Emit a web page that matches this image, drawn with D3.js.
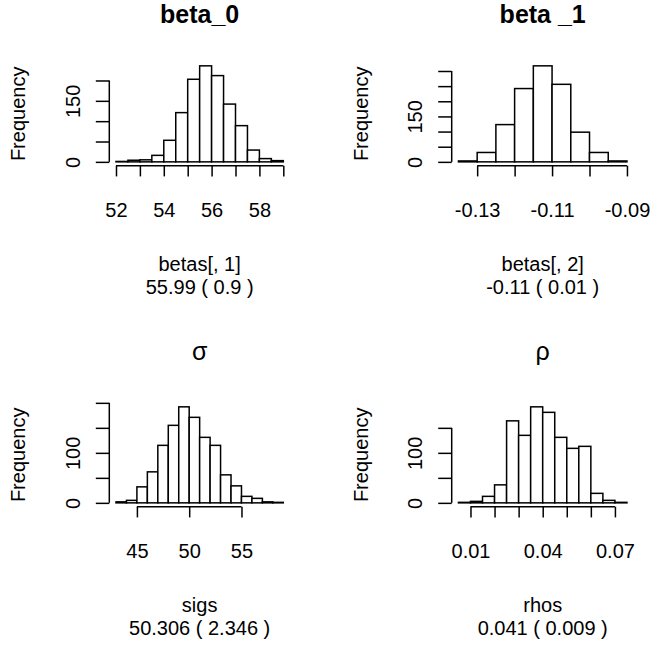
<!DOCTYPE html>
<html>
<head>
<meta charset="utf-8">
<script src="https://cdn.jsdelivr.net/npm/d3@7"></script>
<style>
  html, body { margin: 0; padding: 0; background: #fff; }
  svg text { font-family: "Liberation Sans", Arial, sans-serif; fill: #000; }
</style>
</head>
<body>
<script>
// ---------------- data ----------------
const beta0Breaks = [52, 52.5, 53, 53.5, 54, 54.5, 55, 55.5, 56, 56.5, 57, 57.5, 58, 58.5, 59];
const beta0Counts = [1, 4, 5, 16, 53, 121, 203, 236, 212, 142, 89, 29, 8, 3];
const beta0XTicks = [52, 53, 54, 55, 56, 57, 58, 59];
const beta0XLabels = ["52", "", "54", "", "56", "", "58", ""];
const beta0YTicks = [0, 50, 100, 150, 200];
const beta0YLabels = ["0", "", "", "150", ""];

const beta1Breaks = [-0.135, -0.13, -0.125, -0.12, -0.115, -0.11, -0.105, -0.10, -0.095, -0.09];
const beta1Counts = [3, 31, 123, 242, 317, 256, 98, 31, 3];
const beta1XTicks = [-0.13, -0.12, -0.11, -0.10, -0.09];
const beta1XLabels = ["-0.13", "", "-0.11", "", "-0.09"];
const beta1YTicks = [0, 50, 100, 150, 200, 250, 300];
const beta1YLabels = ["0", "", "", "150", "", "", ""];

const sigBreaks = [43, 44, 45, 46, 47, 48, 49, 50, 51, 52, 53, 54, 55, 56, 57, 58, 59];
const sigCounts = [2, 5, 32, 62, 115, 155, 192, 171, 131, 115, 56, 34, 13, 9, 2, 1];
const sigXTicks = [45, 50, 55];
const sigXLabels = ["45", "50", "55"];
const sigYTicks = [0, 50, 100, 150, 200];
const sigYLabels = ["0", "", "100", "", ""];

const rhoBreaks = [0.005, 0.01, 0.015, 0.02, 0.025, 0.03, 0.035, 0.04, 0.045, 0.05, 0.055, 0.06, 0.065, 0.07, 0.075];
const rhoCounts = [1, 3, 13, 36, 164, 135, 192, 181, 131, 109, 113, 19, 5, 1];
const rhoXTicks = [0.01, 0.02, 0.03, 0.04, 0.05, 0.06, 0.07];
const rhoXLabels = ["0.01", "", "", "0.04", "", "", "0.07"];
const rhoYTicks = [0, 50, 100, 150];
const rhoYLabels = ["0", "", "100", ""];

const titles = ["beta_0", "beta _1", "\u03C3", "\u03C1"];
const xLabs = ["betas[, 1]", "betas[, 2]", "sigs", "rhos"];
const subLabs = ["55.99 ( 0.9 )", "-0.11 ( 0.01 )", "50.306 ( 2.346 )", "0.041 ( 0.009 )"];
const yLab = "Frequency";

// ---------------- drawing ----------------
const W = 651, H = 648;
const svg = d3.select("body").append("svg").attr("width", W).attr("height", H);

const panels = [
  { breaks: beta0Breaks, counts: beta0Counts, xt: beta0XTicks, xl: beta0XLabels, yt: beta0YTicks, yl: beta0YLabels },
  { breaks: beta1Breaks, counts: beta1Counts, xt: beta1XTicks, xl: beta1XLabels, yt: beta1YTicks, yl: beta1YLabels },
  { breaks: sigBreaks, counts: sigCounts, xt: sigXTicks, xl: sigXLabels, yt: sigYTicks, yl: sigYLabels },
  { breaks: rhoBreaks, counts: rhoCounts, xt: rhoXTicks, xl: rhoXLabels, yt: rhoYTicks, yl: rhoYLabels }
];

const colX = [[109.3, 290], [451.7, 633.7]];
const rowY = [[62, 165.7], [403, 506.7]];
const titleY = [23, 360];
const xlabY = [271, 612];
const subY = [294, 635];
const LW = 1.5;
const FS = 20;

panels.forEach((p, i) => {
  const col = i % 2, row = Math.floor(i / 2);
  const [x0, x1] = colX[col];
  const [yTop, yBot] = rowY[row];
  const lo = p.breaks[0], hi = p.breaks[p.breaks.length - 1];
  const ext = (hi - lo) * 0.04;
  const x = d3.scaleLinear().domain([lo - ext, hi + ext]).range([x0, x1]);
  const ymax = d3.max(p.counts);
  const y = d3.scaleLinear().domain([-0.04 * ymax, ymax * 1.04]).range([yBot, yTop]);
  const g = svg.append("g");

  // bars
  g.selectAll("rect").data(p.counts).join("rect")
    .attr("x", (d, k) => x(p.breaks[k]))
    .attr("width", (d, k) => x(p.breaks[k + 1]) - x(p.breaks[k]))
    .attr("y", d => y(d))
    .attr("height", d => y(0) - y(d))
    .attr("fill", "#fff")
    .attr("stroke", "#000")
    .attr("stroke-width", LW);

  // x axis
  const xa = d3.axisBottom(x).tickValues(p.xt).tickSize(10.7)
    .tickFormat((d, k) => p.xl[k]);
  const gx = g.append("g").attr("transform", `translate(0,${yBot})`).call(xa);
  gx.select(".domain").remove();
  gx.selectAll(".tick line").attr("stroke", "#000").attr("stroke-width", LW);
  gx.selectAll(".tick text").attr("y", 51.3).attr("dy", null)
    .attr("font-size", FS).attr("fill", "#000").attr("font-family", null);
  gx.append("line").attr("x1", x(p.xt[0])).attr("x2", x(p.xt[p.xt.length - 1]))
    .attr("y1", 0).attr("y2", 0).attr("stroke", "#000").attr("stroke-width", LW);

  // y axis
  const ya = d3.axisLeft(y).tickValues(p.yt).tickSize(13.5)
    .tickFormat((d, k) => p.yl[k]);
  const gy = g.append("g").attr("transform", `translate(${x0},0)`).call(ya);
  gy.select(".domain").remove();
  gy.selectAll(".tick line").attr("stroke", "#000").attr("stroke-width", LW);
  gy.selectAll(".tick text").attr("x", null).attr("dy", null)
    .attr("text-anchor", "middle")
    .attr("transform", "translate(-29.7,0) rotate(-90)")
    .attr("font-size", FS).attr("fill", "#000").attr("font-family", null);
  gy.append("line").attr("x1", 0).attr("x2", 0)
    .attr("y1", y(p.yt[0])).attr("y2", y(p.yt[p.yt.length - 1]))
    .attr("stroke", "#000").attr("stroke-width", LW);

  const cx = (x0 + x1) / 2;
  // title
  svg.append("text").attr("x", cx).attr("y", titleY[row])
    .attr("text-anchor", "middle").attr("font-size", 25)
    .attr("font-weight", row === 0 ? "bold" : "normal")
    .text(titles[i]);
  // xlab + sub
  svg.append("text").attr("x", cx).attr("y", xlabY[row])
    .attr("text-anchor", "middle").attr("font-size", FS).text(xLabs[i]);
  svg.append("text").attr("x", cx).attr("y", subY[row])
    .attr("text-anchor", "middle").attr("font-size", FS).text(subLabs[i]);
  // ylab
  svg.append("text")
    .attr("transform", `translate(${x0 - 84},${(yTop + yBot) / 2}) rotate(-90)`)
    .attr("text-anchor", "middle").attr("font-size", FS).text(yLab);
});
</script>
</body>
</html>
